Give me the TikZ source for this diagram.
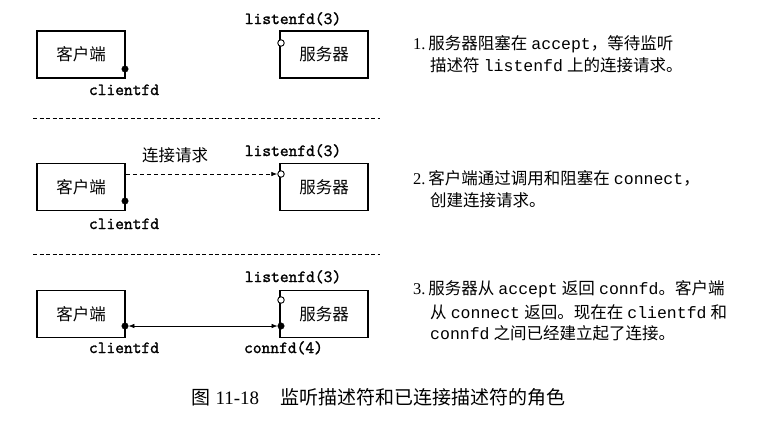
\documentclass[tikz,border=0pt]{standalone}
\usepackage{fontspec}
\setmainfont{Liberation Serif}
\newfontfamily\cjk{Noto Sans CJK SC}
\newfontfamily\cour{Liberation Mono}
\newfontfamily\lmb{Latin Modern Mono}[FakeBold=1.6]
\usetikzlibrary{arrows.meta}
\begin{document}
\begin{tikzpicture}[x=1pt,y=-1pt,
 box/.style={draw,line width=1.7pt,minimum width=88pt,minimum height=47pt,inner sep=0pt,font=\fontsize{16.5}{18}\selectfont\cjk},
 lbl/.style={font=\fontsize{17}{20}\selectfont\lmb,inner sep=0pt,anchor=base},
 fdot/.style={circle,fill=black,draw=black,inner sep=0pt,minimum size=6.5pt},
 odot/.style={circle,fill=white,draw=black,line width=0.9pt,inner sep=0pt,minimum size=6.5pt},
 sepline/.style={line width=0.7pt,dash pattern=on 4pt off 2.5pt},
 txt/.style={font=\fontsize{16.5}{20}\selectfont,inner sep=0pt,anchor=base west},
 tipr/.style={-{Latex[length=6pt,width=4.5pt]}},
 tipboth/.style={{Latex[length=6pt,width=4.5pt]}-{Latex[length=6pt,width=4.5pt]}}
]
\useasboundingbox (0,0) rectangle (766,421);

% Row 1
\node[box] (c1) at (81,54.5) {客户端};
\node[box] (s1) at (324,54.5) {服务器};
\node[fdot] (c1d) at (125,69) {};
\node[odot] (s1o) at (281,43) {};
\node[lbl] (l1) at (293,24) {listenfd(3)};
\node[lbl] (cf1) at (124,95) {clientfd};
\coordinate (sepA1) at (33,118);
\coordinate (sepA2) at (380,118);
\draw[sepline] (sepA1) -- (sepA2);

% Row 2
\node[box] (c2) at (81,187) {客户端};
\node[box] (s2) at (324,187) {服务器};
\node[fdot] (c2d) at (125,201) {};
\node[odot] (s2o) at (281,174) {};
\node[lbl] (l2) at (293,156) {listenfd(3)};
\node[lbl] (cf2) at (124,229) {clientfd};
\node[font=\fontsize{16.5}{18}\selectfont\cjk,inner sep=0pt] (req) at (175,155) {连接请求};
\draw[line width=0.8pt,dash pattern=on 4pt off 3pt,tipr] (c2.east |- s2o) -- (s2o.west);
\coordinate (sepB1) at (33,254);
\coordinate (sepB2) at (380,254);
\draw[sepline] (sepB1) -- (sepB2);

% Row 3
\node[box] (c3) at (81,314) {客户端};
\node[box] (s3) at (324,314) {服务器};
\node[odot] (s3o) at (281,300) {};
\node[fdot] (c3d) at (125,326) {};
\node[fdot] (s3d) at (281,326) {};
\node[lbl] (l3) at (293,282) {listenfd(3)};
\node[lbl] (cf3) at (124,353) {clientfd};
\node[lbl] (cn3) at (283.5,353) {connfd(4)};
\draw[line width=0.6pt,tipboth] (c3d.east) -- (s3d.west);

% Right-hand text
\node[txt] (t1a) at (413,49) {1.\,{\cjk 服务器阻塞在} {\cour accept}{\cjk ，等待监听}};
\node[txt] (t1b) at (430,71) {{\cjk 描述符} {\cour listenfd} {\cjk 上的连接请求。}};
\node[txt] (t2a) at (413,184) {2.\,{\cjk 客户端通过调用和阻塞在} {\cour connect}{\cjk ，}};
\node[txt] (t2b) at (430,206) {{\cjk 创建连接请求。}};
\node[txt] (t3a) at (413,294) {3.\,{\cjk 服务器从} {\cour accept} {\cjk 返回} {\cour connfd}{\cjk 。客户端}};
\node[txt] (t3b) at (430,318) {{\cjk 从} {\cour connect} {\cjk 返回。现在在} {\cour clientfd} {\cjk 和}};
\node[txt] (t3c) at (430,339) {{\cour connfd} {\cjk 之间已经建立起了连接。}};

% Caption
\node[font=\fontsize{19}{22}\selectfont,inner sep=0pt] (cap) at (378.5,397) {{\cjk 图}~11-18\hspace{1.1em}{\cjk 监听描述符和已连接描述符的角色}};
\end{tikzpicture}
\end{document}
